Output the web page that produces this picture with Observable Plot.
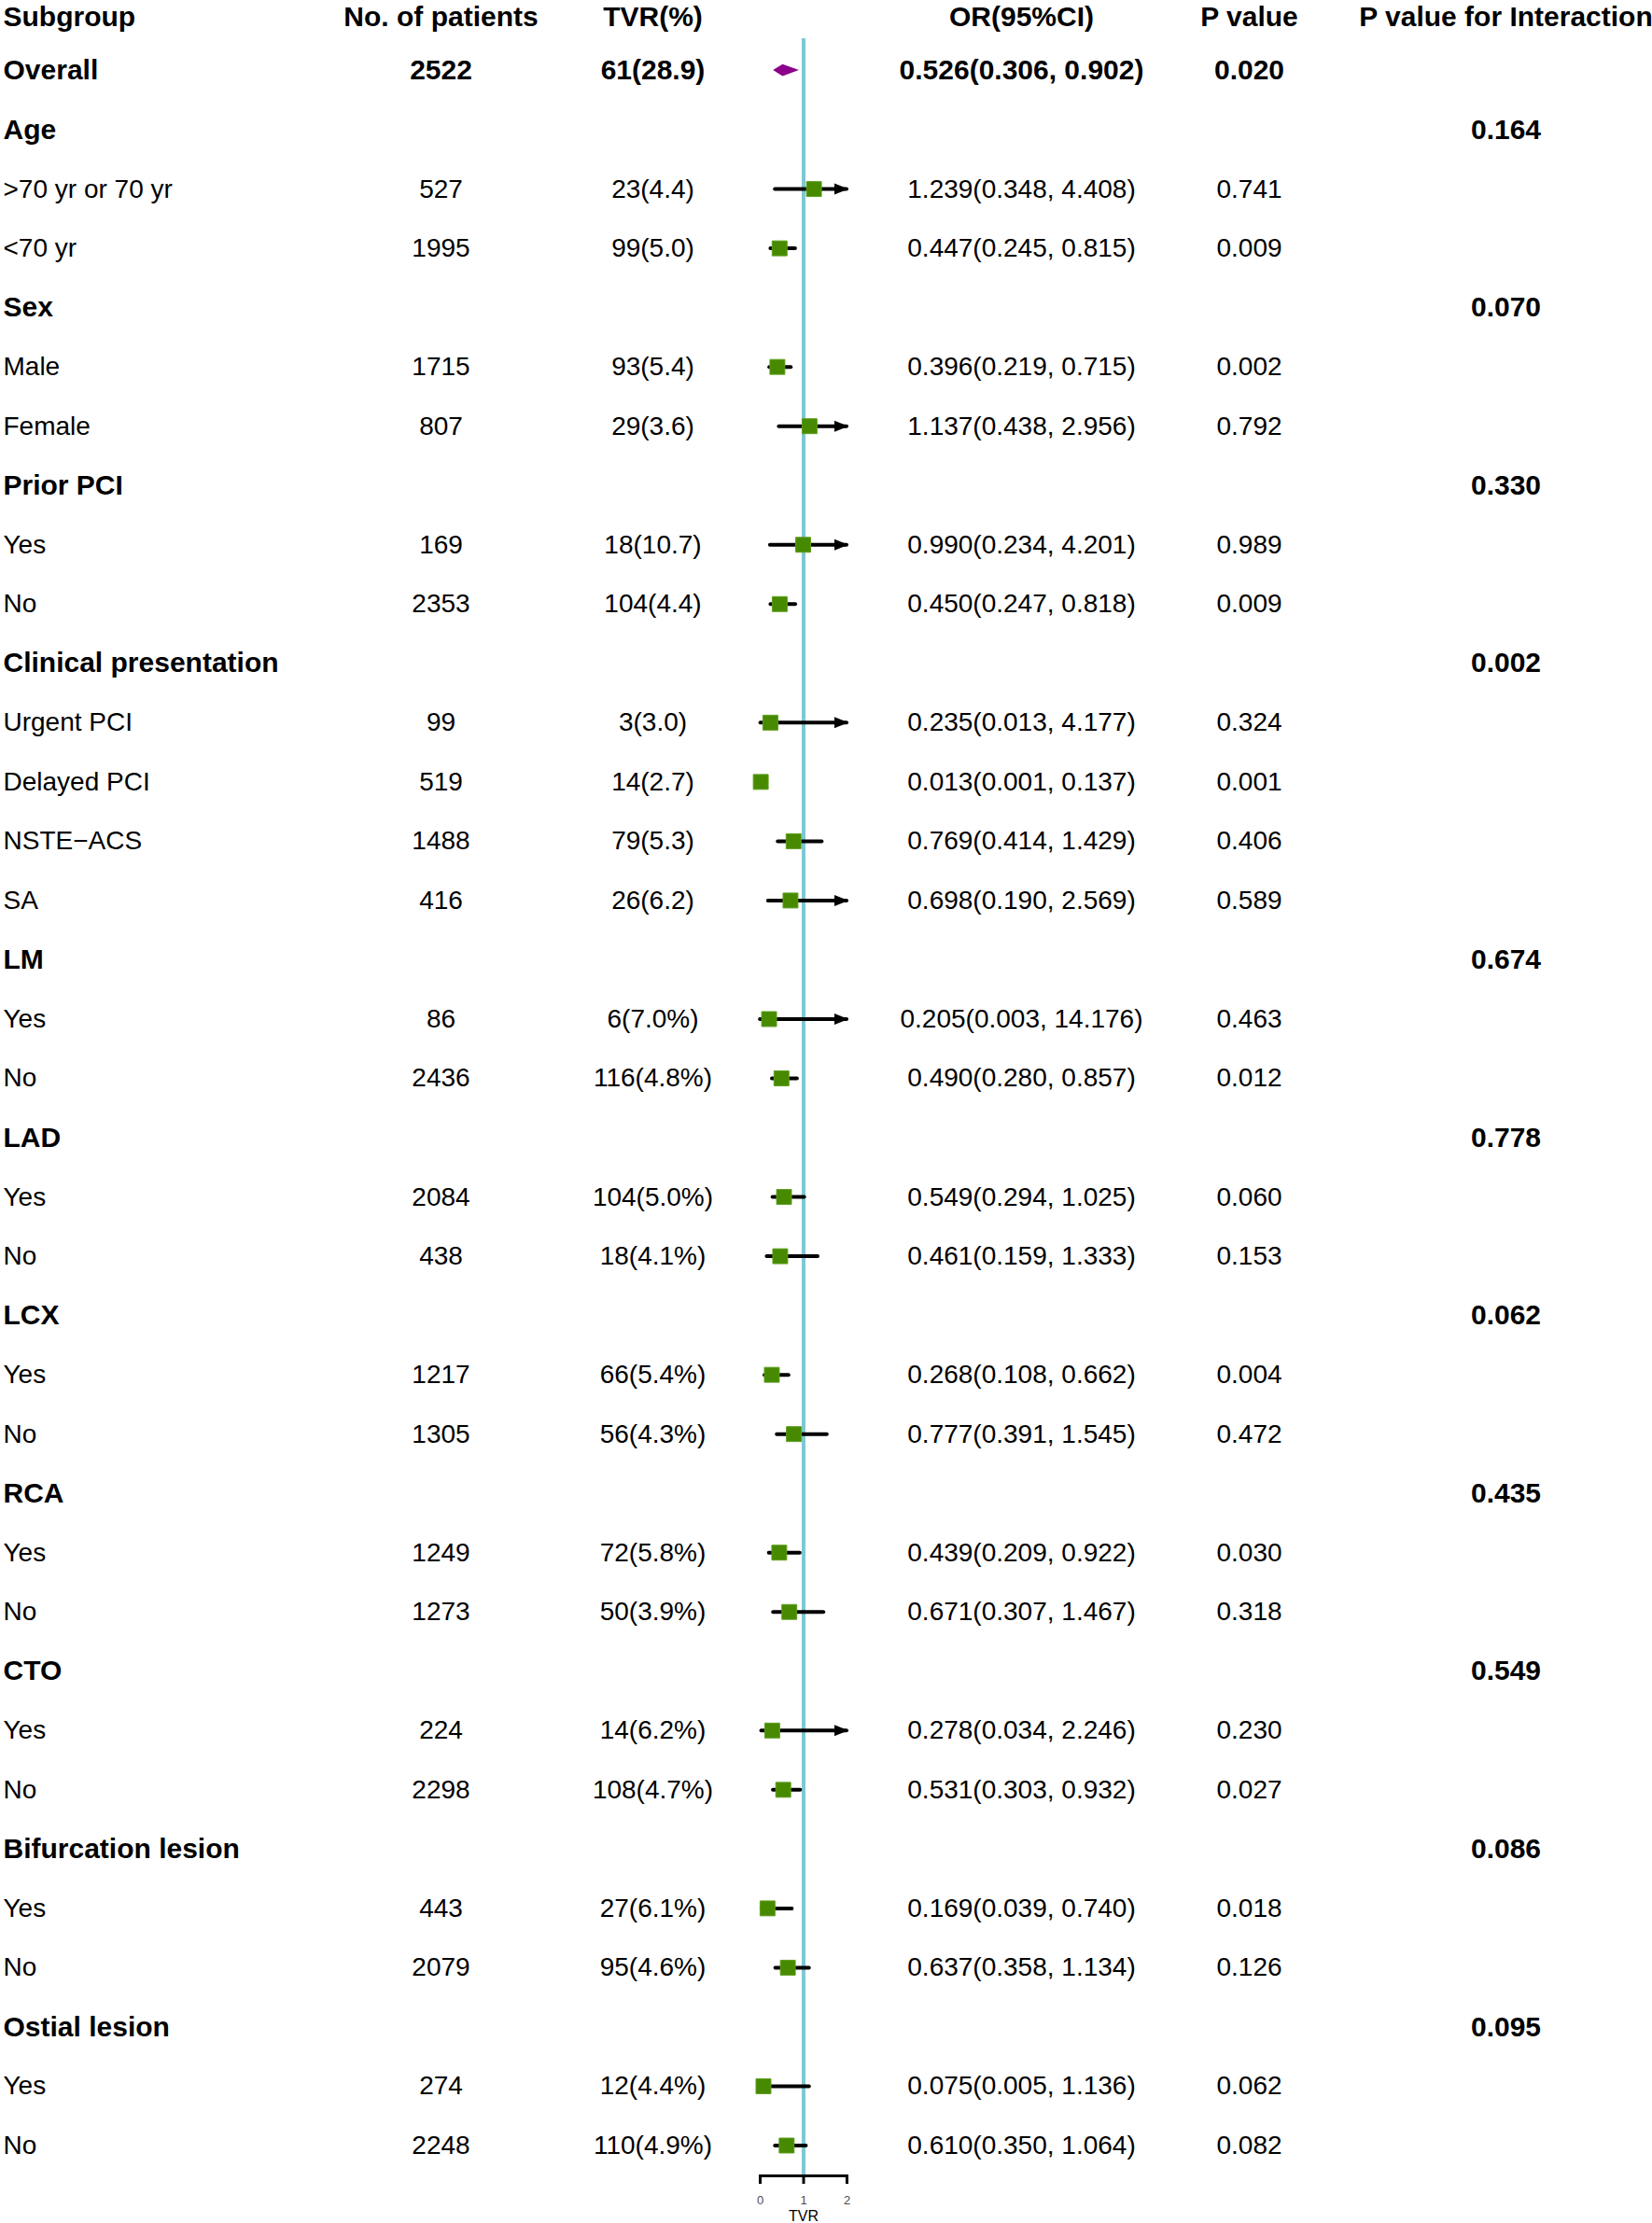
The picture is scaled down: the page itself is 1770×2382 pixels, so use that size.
<!DOCTYPE html>
<html>
<head>
<meta charset="utf-8">
<script src="https://cdn.jsdelivr.net/npm/d3@7"></script>
<script src="https://cdn.jsdelivr.net/npm/@observablehq/plot@0.6"></script>
<style>
  html, body { margin: 0; padding: 0; background: #ffffff; }
  #chart { position: relative; width: 1770px; height: 2382px; overflow: hidden; }
  #chart > svg { position: absolute; top: 0; overflow: visible; }
</style>
</head>
<body>
<div id="chart"></div>
<script>
// ---------------- data ----------------
const headers = ["Subgroup", "No. of patients", "TVR(%)", "OR(95%CI)", "P value", "P value for Interaction"];

const subgroups = ["Overall", "Age", ">70 yr or 70 yr", "<70 yr", "Sex", "Male", "Female",
  "Prior PCI", "Yes", "No", "Clinical presentation", "Urgent PCI", "Delayed PCI", "NSTE\u2212ACS", "SA",
  "LM", "Yes", "No", "LAD", "Yes", "No", "LCX", "Yes", "No", "RCA", "Yes", "No",
  "CTO", "Yes", "No", "Bifurcation lesion", "Yes", "No", "Ostial lesion", "Yes", "No"];

const patients = ["2522", "", "527", "1995", "", "1715", "807", "", "169", "2353", "", "99", "519", "1488", "416",
  "", "86", "2436", "", "2084", "438", "", "1217", "1305", "", "1249", "1273",
  "", "224", "2298", "", "443", "2079", "", "274", "2248"];

const tvrEvents = ["61(28.9)", "", "23(4.4)", "99(5.0)", "", "93(5.4)", "29(3.6)", "", "18(10.7)", "104(4.4)", "",
  "3(3.0)", "14(2.7)", "79(5.3)", "26(6.2)", "", "6(7.0%)", "116(4.8%)", "", "104(5.0%)", "18(4.1%)", "",
  "66(5.4%)", "56(4.3%)", "", "72(5.8%)", "50(3.9%)", "", "14(6.2%)", "108(4.7%)", "", "27(6.1%)", "95(4.6%)",
  "", "12(4.4%)", "110(4.9%)"];

const oddsRatio = [0.526, null, 1.239, 0.447, null, 0.396, 1.137, null, 0.990, 0.450, null,
  0.235, 0.013, 0.769, 0.698, null, 0.205, 0.490, null, 0.549, 0.461, null, 0.268, 0.777, null,
  0.439, 0.671, null, 0.278, 0.531, null, 0.169, 0.637, null, 0.075, 0.610];

const ciLow = [0.306, null, 0.348, 0.245, null, 0.219, 0.438, null, 0.234, 0.247, null,
  0.013, 0.001, 0.414, 0.190, null, 0.003, 0.280, null, 0.294, 0.159, null, 0.108, 0.391, null,
  0.209, 0.307, null, 0.034, 0.303, null, 0.039, 0.358, null, 0.005, 0.350];

const ciHigh = [0.902, null, 4.408, 0.815, null, 0.715, 2.956, null, 4.201, 0.818, null,
  4.177, 0.137, 1.429, 2.569, null, 14.176, 0.857, null, 1.025, 1.333, null, 0.662, 1.545, null,
  0.922, 1.467, null, 2.246, 0.932, null, 0.740, 1.134, null, 1.136, 1.064];

const pValues = ["0.020", "", "0.741", "0.009", "", "0.002", "0.792", "", "0.989", "0.009", "",
  "0.324", "0.001", "0.406", "0.589", "", "0.463", "0.012", "", "0.060", "0.153", "", "0.004", "0.472", "",
  "0.030", "0.318", "", "0.230", "0.027", "", "0.018", "0.126", "", "0.062", "0.082"];

const pInteraction = ["", "0.164", "", "", "0.070", "", "", "0.330", "", "", "0.002", "", "", "", "",
  "0.674", "", "", "0.778", "", "", "0.062", "", "", "0.435", "", "", "0.549", "", "", "0.086", "", "",
  "0.095", "", ""];

const axisTicks = [0, 1, 2];
const axisLabel = "TVR";
const referenceValue = 1;

// ---------------- layout & style ----------------
const H = 2382;
const FONT = "'Liberation Sans', Arial, Helvetica, sans-serif";
const rowTop = 11.5, rowBottom = 2298.5;
const REG = 28, BOLD = 30;
const colors = {square: "#478A00", squareEdge: "#5E9E1E", diamond: "#8B008B", ref: "#7EC8D2"};

const fmt = v => v.toFixed(3);
const rows = subgroups.map((s, i) => {
  const heading = patients[i] === "";
  return {
    row: i + 1,
    label: s,
    n: patients[i],
    tvr: tvrEvents[i],
    or: oddsRatio[i], lo: ciLow[i], hi: ciHigh[i],
    ci: oddsRatio[i] == null ? "" : `${fmt(oddsRatio[i])}(${fmt(ciLow[i])}, ${fmt(ciHigh[i])})`,
    p: pValues[i],
    pi: pInteraction[i],
    bold: i === 0 || heading
  };
});
const nRows = rows.length; // rows 1..36, header = 0
const yScale = {domain: [0, nRows], range: [rowTop, rowBottom], axis: null};

const chart = document.getElementById("chart");

function column(left, width, key, header, anchor) {
  const withText = rows.filter(d => d[key] !== "");
  const svg = Plot.plot({
    width, height: H,
    marginTop: 0, marginBottom: 0, marginRight: 0,
    marginLeft: anchor === "left" ? 3 : 0,
    y: yScale,
    style: {fontFamily: FONT, overflow: "visible", background: "transparent", color: "#000"},
    marks: [
      Plot.text(withText.filter(d => !d.bold), {
        y: "row", text: key, frameAnchor: anchor, fontSize: REG, fill: "#000"
      }),
      Plot.text(withText.filter(d => d.bold), {
        y: "row", text: key, frameAnchor: anchor, fontSize: BOLD, fontWeight: "bold", fill: "#000"
      }),
      Plot.text([{row: 0, text: header}], {
        y: "row", text: "text", frameAnchor: anchor, fontSize: BOLD, fontWeight: "bold", fill: "#000", dy: 6
      })
    ]
  });
  svg.style.left = left + "px";
  chart.append(svg);
}

column(0, 420, "label", headers[0], "left");
column(372, 200, "n", headers[1], "middle");
column(599, 200, "tvr", headers[2], "middle");
column(944, 300, "ci", headers[3], "middle");
column(1238, 200, "p", headers[4], "middle");
column(1456, 314, "pi", headers[5], "middle");

// ---------------- forest panel ----------------
const [xMin, xMax] = d3.extent(axisTicks);
const estimates = rows.filter(d => d.or != null);
const overall = estimates.filter(d => d.row === 1);
const items = estimates.filter(d => d.row !== 1);
const arrows = items.filter(d => d.hi > xMax);

const halfH = 0.1; // diamond half-height in row units
const diamond = overall.flatMap(d => [
  {y: d.row - halfH, x1: d.or, x2: d.or},
  {y: d.row, x1: d.lo, x2: d.hi},
  {y: d.row + halfH, x1: d.or, x2: d.or}
]);

const arrowHead = {
  draw(ctx, size) {
    const r = Math.sqrt(size / Math.PI);
    const L = 2 * r, w = 0.8 * r;
    ctx.moveTo(0, 0);
    ctx.lineTo(-L, -w);
    ctx.lineTo(-L, w);
    ctx.closePath();
  }
};

const forest = Plot.plot({
  width: 200, height: H,
  marginLeft: 50, marginRight: 57, marginTop: 41, marginBottom: 51,
  x: {domain: [xMin, xMax]},
  y: yScale,
  style: {fontFamily: FONT, overflow: "visible", background: "transparent"},
  marks: [
    Plot.ruleX([referenceValue], {stroke: colors.ref, strokeWidth: 4}),
    Plot.ruleY(items, {
      y: "row", x1: "lo", x2: d => Math.min(d.hi, xMax),
      stroke: "#000", strokeWidth: 4, strokeLinecap: "round"
    }),
    Plot.dot(arrows, {x: () => xMax, y: "row", symbol: arrowHead, r: 7.5, fill: "#000", stroke: "none", dx: 1.5}),
    Plot.dot(items, {
      x: "or", y: "row", symbol: "square", r: 9,
      fill: colors.square, stroke: colors.squareEdge, strokeWidth: 1
    }),
    Plot.areaX(diamond, {y: "y", x1: "x1", x2: "x2", fill: colors.diamond, curve: "linear"}),
    Plot.frame({anchor: "bottom", stroke: "#000", strokeWidth: 3}),
    Plot.axisX({
      ticks: axisTicks, tickFormat: d3.format("d"), tickSize: 9, tickPadding: 12,
      strokeWidth: 3, stroke: "#000", fontSize: 13, fill: "#4d4d4d",
      label: null
    }),
    Plot.axisX({
      ticks: [], tickSize: 0, label: axisLabel, labelAnchor: "center", labelArrow: "none",
      fontSize: 16, fill: "#000"
    })
  ]
});
forest.style.left = "764px";
chart.append(forest);
</script>
</body>
</html>
